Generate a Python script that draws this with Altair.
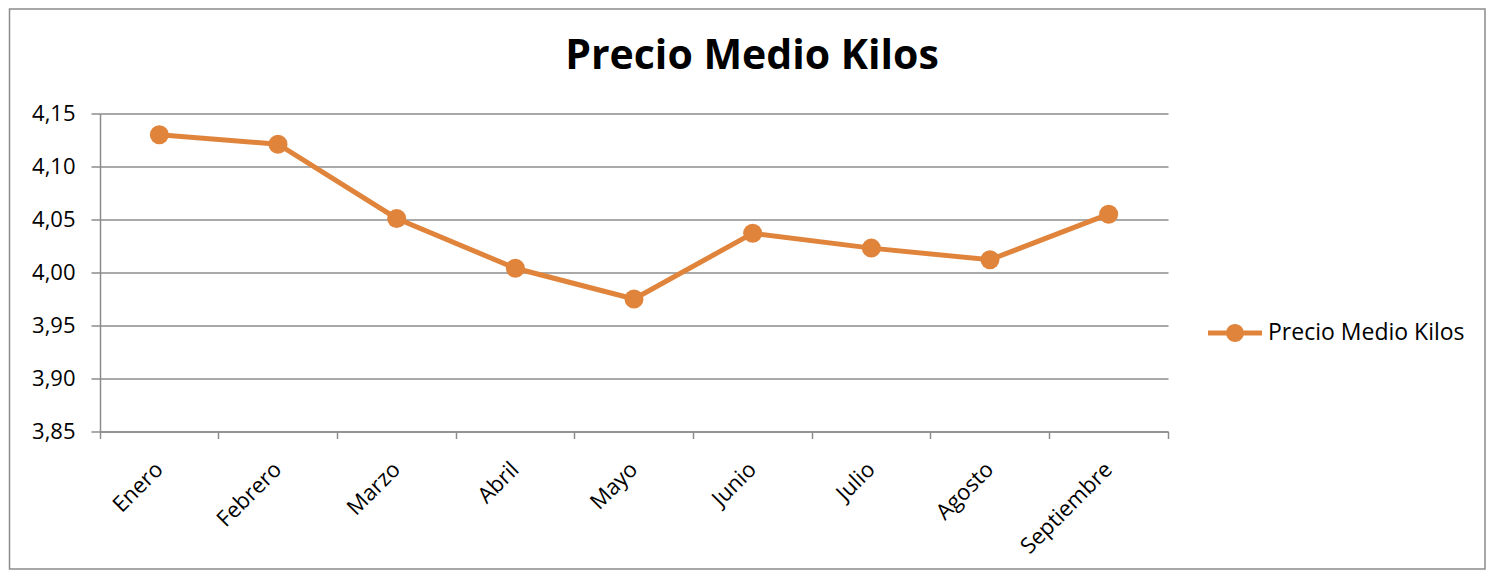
import altair as alt
import pandas as pd

# ---- data ----
meses = ["Enero", "Febrero", "Marzo", "Abril", "Mayo", "Junio", "Julio", "Agosto", "Septiembre"]
precios = [4.130, 4.121, 4.051, 4.004, 3.975, 4.037, 4.023, 4.012, 4.055]
serie = "Precio Medio Kilos"
y_ticks = [3.85, 3.90, 3.95, 4.00, 4.05, 4.10, 4.15]
titulo = "Precio Medio Kilos"

df = pd.DataFrame({"Mes": meses, "Precio": precios, "Serie": [serie] * len(meses)})

ORANGE = "#E0843C"
GRID = "#8C8C8C"
FONT = "Open Sans"

PW, PH = 1068, 318
PAD_L, PAD_T = 92, 105.5
TOTAL_W, TOTAL_H = 1478, 562

x_enc = alt.X(
    "Mes:N",
    sort=meses,
    bandPosition=0.5,
    scale=alt.Scale(type="band", paddingInner=0, paddingOuter=0),
    axis=alt.Axis(
        title=None, grid=False,
        labelAngle=-45, labelAlign="right", labelBaseline="middle",
        labelFont=FONT, labelFontSize=22, labelColor="black",
        bandPosition=1, tickExtra=True,
        tickSize=7, tickColor=GRID, tickWidth=1.5,
        domainColor=GRID, domainWidth=1.5, labelPadding=27,
    ),
)
y_enc = alt.Y(
    "Precio:Q",
    scale=alt.Scale(domain=[3.85, 4.15], nice=False, zero=False),
    axis=alt.Axis(
        title=None, values=y_ticks,
        labelExpr="replace(format(datum.value, '.2f'), '.', ',')",
        labelFont=FONT, labelFontSize=22, labelColor="black", labelPadding=16,
        tickSize=9, tickColor=GRID, tickWidth=1.5,
        domainColor=GRID, domainWidth=1.5,
        grid=True, gridColor=GRID, gridWidth=1.5,
    ),
)

base = alt.Chart(df)

line = base.mark_line(color=ORANGE, strokeWidth=5).encode(x=x_enc, y=y_enc)

legend_path = ("M-1,-0.09L1,-0.09L1,0.09L-1,0.09Z "
               "M0.33,0A0.33,0.33,0,1,1,-0.33,0A0.33,0.33,0,1,1,0.33,0Z")

points = base.mark_point(filled=True, opacity=1, size=361, shape="circle").encode(
    x=x_enc,
    y=y_enc,
    color=alt.Color(
        "Serie:N",
        scale=alt.Scale(domain=[serie], range=[ORANGE]),
        legend=alt.Legend(
            title=None, orient="none", legendX=1108, legendY=192.5, padding=0,
            symbolType=legend_path, symbolSize=2916, symbolStrokeWidth=0,
            symbolFillColor=ORANGE, symbolOpacity=1, labelLimit=0,
            labelFont=FONT, labelFontSize=23, labelColor="black", labelOffset=6,
        ),
    ),
)

frame = alt.Chart(pd.DataFrame({"f": [0]})).mark_rect(
    fill=None, stroke="#8C8C8C", strokeWidth=1.5
).encode(
    x=alt.value(-PAD_L + 1.5),
    x2=alt.value(TOTAL_W - PAD_L - 1),
    y=alt.value(-PAD_T + 1),
    y2=alt.value(TOTAL_H - PAD_T - 1),
)

chart = alt.layer(frame, line, points).properties(
    width=PW,
    height=PH,
    title=alt.TitleParams(
        titulo, font=FONT, fontSize=41, fontWeight="bold", color="black",
        anchor="middle", frame="group", dx=118, offset=28, baseline="alphabetic", dy=130,
    ),
    padding={"left": PAD_L, "top": PAD_T, "right": TOTAL_W - PAD_L - PW, "bottom": TOTAL_H - PAD_T - PH},
    autosize=alt.AutoSizeParams(type="none"),
    background="white",
).configure_view(stroke=None)

chart.save("out.html", embed_options={"renderer": "svg", "actions": False})
